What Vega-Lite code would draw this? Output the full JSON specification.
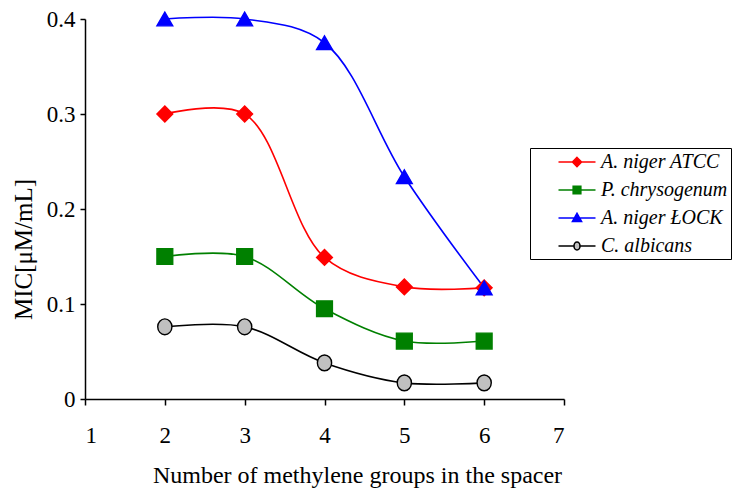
{
  "$schema": "https://vega.github.io/schema/vega-lite/v6.json",
  "width": 479,
  "height": 380,
  "autosize": "none",
  "padding": {"left": 85, "top": 19, "right": 180, "bottom": 98},
  "background": "white",
  "config": {
    "view": {"stroke": null},
    "font": "Liberation Serif",
    "style": {
      "guide-label": {"font": "Liberation Serif", "fill": "black"},
      "guide-title": {"font": "Liberation Serif", "fill": "black"}
    },
    "axis": {
      "grid": false,
      "domainColor": "black",
      "tickColor": "black",
      "labelColor": "black",
      "titleColor": "black",
      "domainWidth": 1.5,
      "tickWidth": 1.5,
      "labelFont": "Liberation Serif",
      "titleFont": "Liberation Serif",
      "titleFontWeight": "normal"
    }
  },
  "data": {
    "values": [
      {"n": 2, "series": "A. niger ATCC", "mic": 0.3},
      {"n": 3, "series": "A. niger ATCC", "mic": 0.3},
      {"n": 4, "series": "A. niger ATCC", "mic": 0.149},
      {"n": 5, "series": "A. niger ATCC", "mic": 0.118},
      {"n": 6, "series": "A. niger ATCC", "mic": 0.117},
      {"n": 2, "series": "P. chrysogenum", "mic": 0.15},
      {"n": 3, "series": "P. chrysogenum", "mic": 0.15},
      {"n": 4, "series": "P. chrysogenum", "mic": 0.095},
      {"n": 5, "series": "P. chrysogenum", "mic": 0.061},
      {"n": 6, "series": "P. chrysogenum", "mic": 0.061},
      {"n": 2, "series": "A. niger ŁOCK", "mic": 0.4},
      {"n": 3, "series": "A. niger ŁOCK", "mic": 0.4},
      {"n": 4, "series": "A. niger ŁOCK", "mic": 0.375},
      {"n": 5, "series": "A. niger ŁOCK", "mic": 0.234},
      {"n": 6, "series": "A. niger ŁOCK", "mic": 0.117},
      {"n": 2, "series": "C. albicans", "mic": 0.076},
      {"n": 3, "series": "C. albicans", "mic": 0.076},
      {"n": 4, "series": "C. albicans", "mic": 0.038},
      {"n": 5, "series": "C. albicans", "mic": 0.017},
      {"n": 6, "series": "C. albicans", "mic": 0.017}
    ]
  },
  "encoding": {
    "x": {
      "field": "n",
      "type": "quantitative",
      "scale": {"domain": [1, 7], "nice": false, "zero": false},
      "axis": {
        "values": [1, 2, 3, 4, 5, 6, 7],
        "title": "Number of methylene groups in the spacer",
        "tickSize": 6,
        "labelPadding": 19,
        "labelFont": "Liberation Serif",
        "labelFontSize": 23,
        "titleFont": "Liberation Serif",
        "titleFontSize": 24,
        "titleX": 272,
        "titleY": 64,
        "titleAlign": "center",
        "titleBaseline": "top"
      }
    },
    "y": {
      "field": "mic",
      "type": "quantitative",
      "scale": {"domain": [0, 0.4], "nice": false},
      "axis": {
        "values": [0, 0.1, 0.2, 0.3, 0.4],
        "format": ".1~f",
        "title": "MIC[μM/mL]",
        "tickSize": 5,
        "labelPadding": 5,
        "labelFont": "Liberation Serif",
        "labelFontSize": 23,
        "titleFont": "Liberation Serif",
        "titleFontSize": 25,
        "titleAngle": 270,
        "titleX": -54,
        "titleY": 230,
        "titleAlign": "center",
        "titleBaseline": "alphabetic"
      }
    }
  },
  "layer": [
    {
      "mark": {"type": "line", "interpolate": "catmull-rom", "strokeWidth": 1.6},
      "encoding": {
        "color": {
          "field": "series",
          "type": "nominal",
          "scale": {
            "domain": ["A. niger ATCC", "P. chrysogenum", "A. niger ŁOCK", "C. albicans"],
            "range": ["#ff0000", "#008000", "#0000ff", "#000000"]
          },
          "legend": null
        },
        "strokeWidth": {
          "field": "series",
          "type": "nominal",
          "scale": {
            "domain": ["A. niger ATCC", "P. chrysogenum", "A. niger ŁOCK", "C. albicans"],
            "range": [1.5, 1.5, 2, 2]
          },
          "legend": null
        }
      }
    },
    {
      "mark": {"type": "point", "filled": true, "size": 250, "strokeWidth": 1.4, "opacity": 1},
      "encoding": {
        "shape": {
          "field": "series",
          "type": "nominal",
          "scale": {
            "domain": ["A. niger ATCC", "P. chrysogenum", "A. niger ŁOCK", "C. albicans"],
            "range": ["diamond", "square", "triangle-up", "M-0.9,0A0.9,1,0,1,0,0.9,0A0.9,1,0,1,0,-0.9,0Z"]
          },
          "legend": null
        },
        "fill": {
          "field": "series",
          "type": "nominal",
          "scale": {
            "domain": ["A. niger ATCC", "P. chrysogenum", "A. niger ŁOCK", "C. albicans"],
            "range": ["#ff0000", "#008000", "#0000ff", "#c0c0c0"]
          },
          "legend": null
        },
        "stroke": {
          "field": "series",
          "type": "nominal",
          "scale": {
            "domain": ["A. niger ATCC", "P. chrysogenum", "A. niger ŁOCK", "C. albicans"],
            "range": ["#ff0000", "#008000", "#0000ff", "#000000"]
          },
          "legend": null
        }
      }
    },
    {
      "mark": {"type": "point", "filled": true, "size": 400, "strokeWidth": 1.6, "opacity": 0},
      "encoding": {
        "shape": {
          "field": "series",
          "type": "nominal",
          "scale": {
            "domain": ["A. niger ATCC", "P. chrysogenum", "A. niger ŁOCK", "C. albicans"],
            "range": [
              "M-1.85,0L1.85,0M0,-0.45L0.45,0L0,0.45L-0.45,0Z",
              "M-1.85,0L1.85,0M-0.38,-0.38L0.38,-0.38L0.38,0.38L-0.38,0.38Z",
              "M-1.85,0L1.85,0M0,-0.45L0.45,0.35L-0.45,0.35Z",
              "M-1.85,0L-0.3,0M0.3,0L1.85,0M-0.3,0A0.3,0.4,0,1,0,0.3,0A0.3,0.4,0,1,0,-0.3,0Z"
            ]
          },
          "legend": {
            "title": null,
            "orient": "none",
            "legendX": 445,
            "legendY": 129,
            "strokeColor": "black",
            "padding": 3,
            "symbolOffset": 33,
            "symbolSize": 400,
            "symbolOpacity": 1,
            "symbolStrokeWidth": 1.6,
            "rowPadding": 7,
            "labelOffset": 13,
            "labelFont": "Liberation Serif",
            "labelFontStyle": "italic",
            "labelFontSize": 20,
            "labelColor": "black"
          }
        },
        "fill": {
          "field": "series",
          "type": "nominal",
          "scale": {
            "domain": ["A. niger ATCC", "P. chrysogenum", "A. niger ŁOCK", "C. albicans"],
            "range": ["#ff0000", "#008000", "#0000ff", "#c0c0c0"]
          },
          "legend": {
            "title": null,
            "orient": "none",
            "legendX": 445,
            "legendY": 129,
            "strokeColor": "black",
            "padding": 3,
            "symbolOffset": 33,
            "symbolSize": 400,
            "symbolOpacity": 1,
            "symbolStrokeWidth": 1.6,
            "rowPadding": 7,
            "labelOffset": 13,
            "labelFont": "Liberation Serif",
            "labelFontStyle": "italic",
            "labelFontSize": 20,
            "labelColor": "black"
          }
        },
        "stroke": {
          "field": "series",
          "type": "nominal",
          "scale": {
            "domain": ["A. niger ATCC", "P. chrysogenum", "A. niger ŁOCK", "C. albicans"],
            "range": ["#ff0000", "#008000", "#0000ff", "#000000"]
          },
          "legend": {
            "title": null,
            "orient": "none",
            "legendX": 445,
            "legendY": 129,
            "strokeColor": "black",
            "padding": 3,
            "symbolOffset": 33,
            "symbolSize": 400,
            "symbolOpacity": 1,
            "symbolStrokeWidth": 1.6,
            "rowPadding": 7,
            "labelOffset": 13,
            "labelFont": "Liberation Serif",
            "labelFontStyle": "italic",
            "labelFontSize": 20,
            "labelColor": "black"
          }
        }
      }
    }
  ],
  "resolve": {"scale": {"shape": "independent", "fill": "independent", "stroke": "independent"}}
}
